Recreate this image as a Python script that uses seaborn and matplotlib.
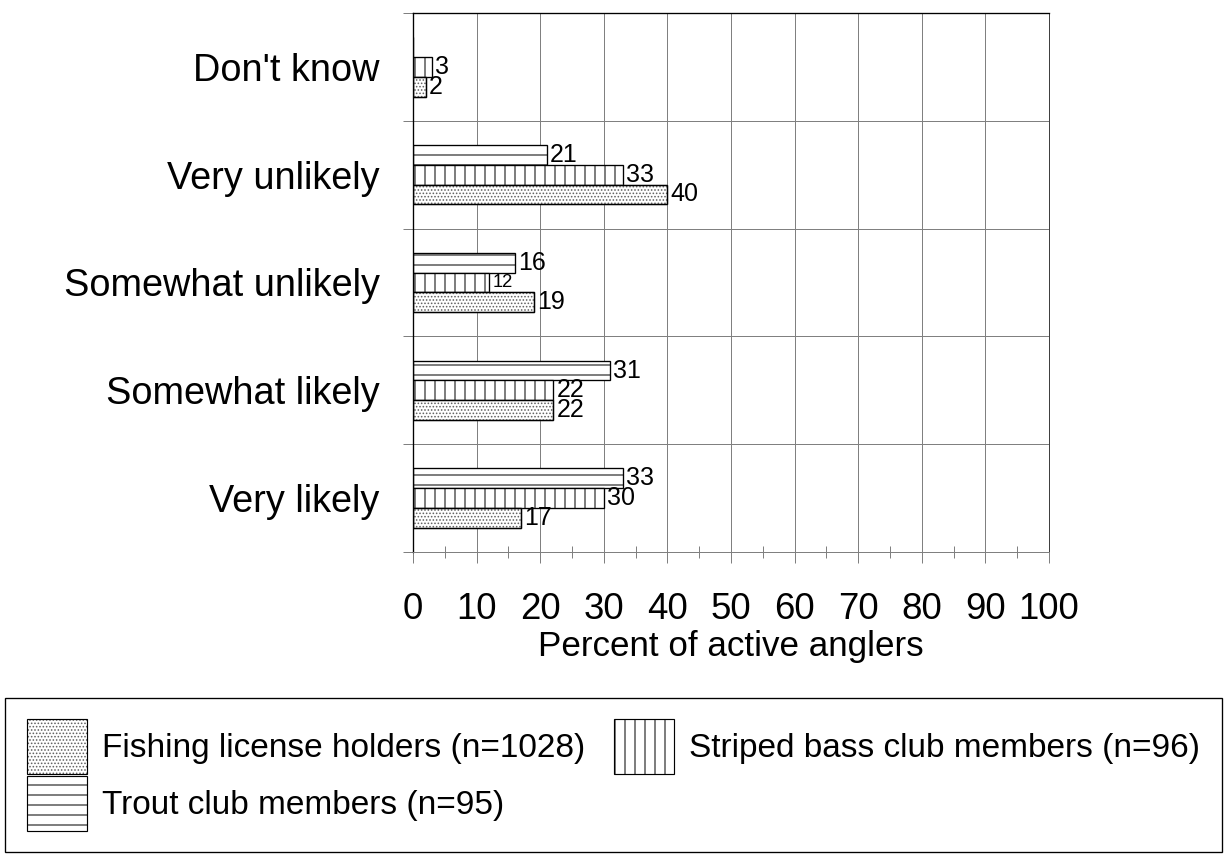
import matplotlib
matplotlib.use('Agg')
import matplotlib.pyplot as plt
from matplotlib.patches import Patch, Rectangle
from matplotlib.legend_handler import HandlerTuple
from matplotlib.ticker import FixedLocator
import seaborn as sns
import pandas as pd


# Data
categories = ["Don't know", 'Very unlikely', 'Somewhat unlikely', 'Somewhat likely', 'Very likely']
trout = [0, 21, 16, 31, 33]
striped_bass = [3, 33, 12, 22, 30]
license_holders = [2, 40, 19, 22, 17]

series_names = ['Trout club members (n=95)',
                'Striped bass club members (n=96)',
                'Fishing license holders (n=1028)']
x_ticks = list(range(0, 101, 10))


def plot_anglers():

    # Set colors
    grid_color = '#808080'
    edge_color = 'black'
    dot_color = '#606060'
    hatches = {series_names[0]: '--', series_names[1]: '||', series_names[2]: '......'}

    sns.set_style('white')
    plt.rcParams['font.family'] = ['Liberation Sans', 'DejaVu Sans']
    plt.rcParams['text.color'] = 'black'
    plt.rcParams['axes.labelcolor'] = 'black'
    plt.rcParams['xtick.labelcolor'] = 'black'
    plt.rcParams['ytick.labelcolor'] = 'black'
    plt.rcParams['hatch.linewidth'] = 0.6

    df = pd.DataFrame({
        'category': categories * 3,
        'group': [series_names[0]] * 5 + [series_names[1]] * 5 + [series_names[2]] * 5,
        'value': trout + striped_bass + license_holders,
    })

    fig = plt.figure(figsize=(1225 / 120, 861 / 120), dpi=120)
    ax = fig.add_axes([413 / 1225, 1 - 552 / 861, 636 / 1225, 539 / 861])

    sns.barplot(data=df, y='category', x='value', hue='group', order=categories,
                hue_order=series_names, orient='h', width=0.55, palette=['white'] * 3,
                saturation=1, edgecolor=edge_color, linewidth=0.8, legend=False, ax=ax)

    # Hatch the bars and write the values
    for container, name in zip(ax.containers, series_names):
        for bar in container:
            bar.set_hatch(hatches[name])
            if name == series_names[2]:
                # light stipple: grey hatch, black outline drawn on top
                bar.set_edgecolor(dot_color)
                ax.add_patch(Rectangle(bar.get_xy(), bar.get_width(), bar.get_height(),
                                       fill=False, edgecolor=edge_color, linewidth=0.8,
                                       zorder=bar.get_zorder()))
        labels = [str(int(v)) if v else '' for v in container.datavalues]
        texts = ax.bar_label(container, labels=labels, padding=2, fontsize=15)
        if name == series_names[1]:
            # the "12" is printed smaller in the original
            texts[categories.index('Somewhat unlikely')].set_fontsize(11)

    ax.set_xlim(0, 100)
    ax.set_ylim(len(categories) - 0.5, -0.5)

    # Ticks and grid
    ax.set_xticks(x_ticks)
    ax.xaxis.set_minor_locator(FixedLocator(list(range(5, 100, 10))))
    ax.yaxis.set_minor_locator(FixedLocator([i - 0.5 for i in range(len(categories) + 1)]))
    ax.tick_params(axis='x', which='major', direction='out', length=6.5, width=0.6,
                   color=grid_color, labelsize=22, pad=17.5, bottom=True)
    ax.tick_params(axis='x', which='minor', direction='inout', length=7.5, width=0.6,
                   color=grid_color, bottom=True)
    ax.tick_params(axis='y', which='major', length=0, labelsize=22.7, pad=20)
    ax.tick_params(axis='y', which='minor', direction='out', length=6, width=0.6,
                   color=grid_color, left=True)
    ax.grid(axis='x', which='major', color=grid_color, linewidth=0.6)
    ax.grid(axis='y', which='minor', color=grid_color, linewidth=0.6)
    ax.set_axisbelow(True)

    ax.set_ylabel('')
    ax.set_xlabel('Percent of active anglers', fontsize=21, labelpad=2)

    # Spines
    for side in ['left', 'top']:
        ax.spines[side].set_color('black')
        ax.spines[side].set_linewidth(0.8)
    ax.spines['right'].set_color('#404040')
    ax.spines['right'].set_linewidth(0.6)
    ax.spines['bottom'].set_color(grid_color)
    ax.spines['bottom'].set_linewidth(0.6)

    # Legend below the plot
    legend_order = [series_names[2], series_names[0], series_names[1]]
    handles = []
    for name in legend_order:
        if name == series_names[2]:
            handles.append((Patch(facecolor='white', edgecolor=dot_color, linewidth=0,
                                  hatch=hatches[name]),
                            Patch(fill=False, edgecolor=edge_color, linewidth=0.7)))
        else:
            handles.append(Patch(facecolor='white', edgecolor=edge_color, linewidth=0.7,
                                 hatch=hatches[name]))
    leg = fig.legend(handles=handles, labels=legend_order, loc='center', ncol=2, mode='expand',
                     handler_map={tuple: HandlerTuple(ndivide=1, pad=0)},
                     bbox_to_anchor=(5 / 1225, 6 / 861, 1217 / 1225, 160 / 861),
                     fontsize=20, frameon=True, fancybox=False, framealpha=1,
                     edgecolor='black', handlelength=1.8, handleheight=2.15,
                     handletextpad=0.45, labelspacing=0.05, borderpad=0.65, borderaxespad=0)
    leg.get_frame().set_linewidth(0.8)

    fig.savefig('out.png', dpi=120)


plot_anglers()
